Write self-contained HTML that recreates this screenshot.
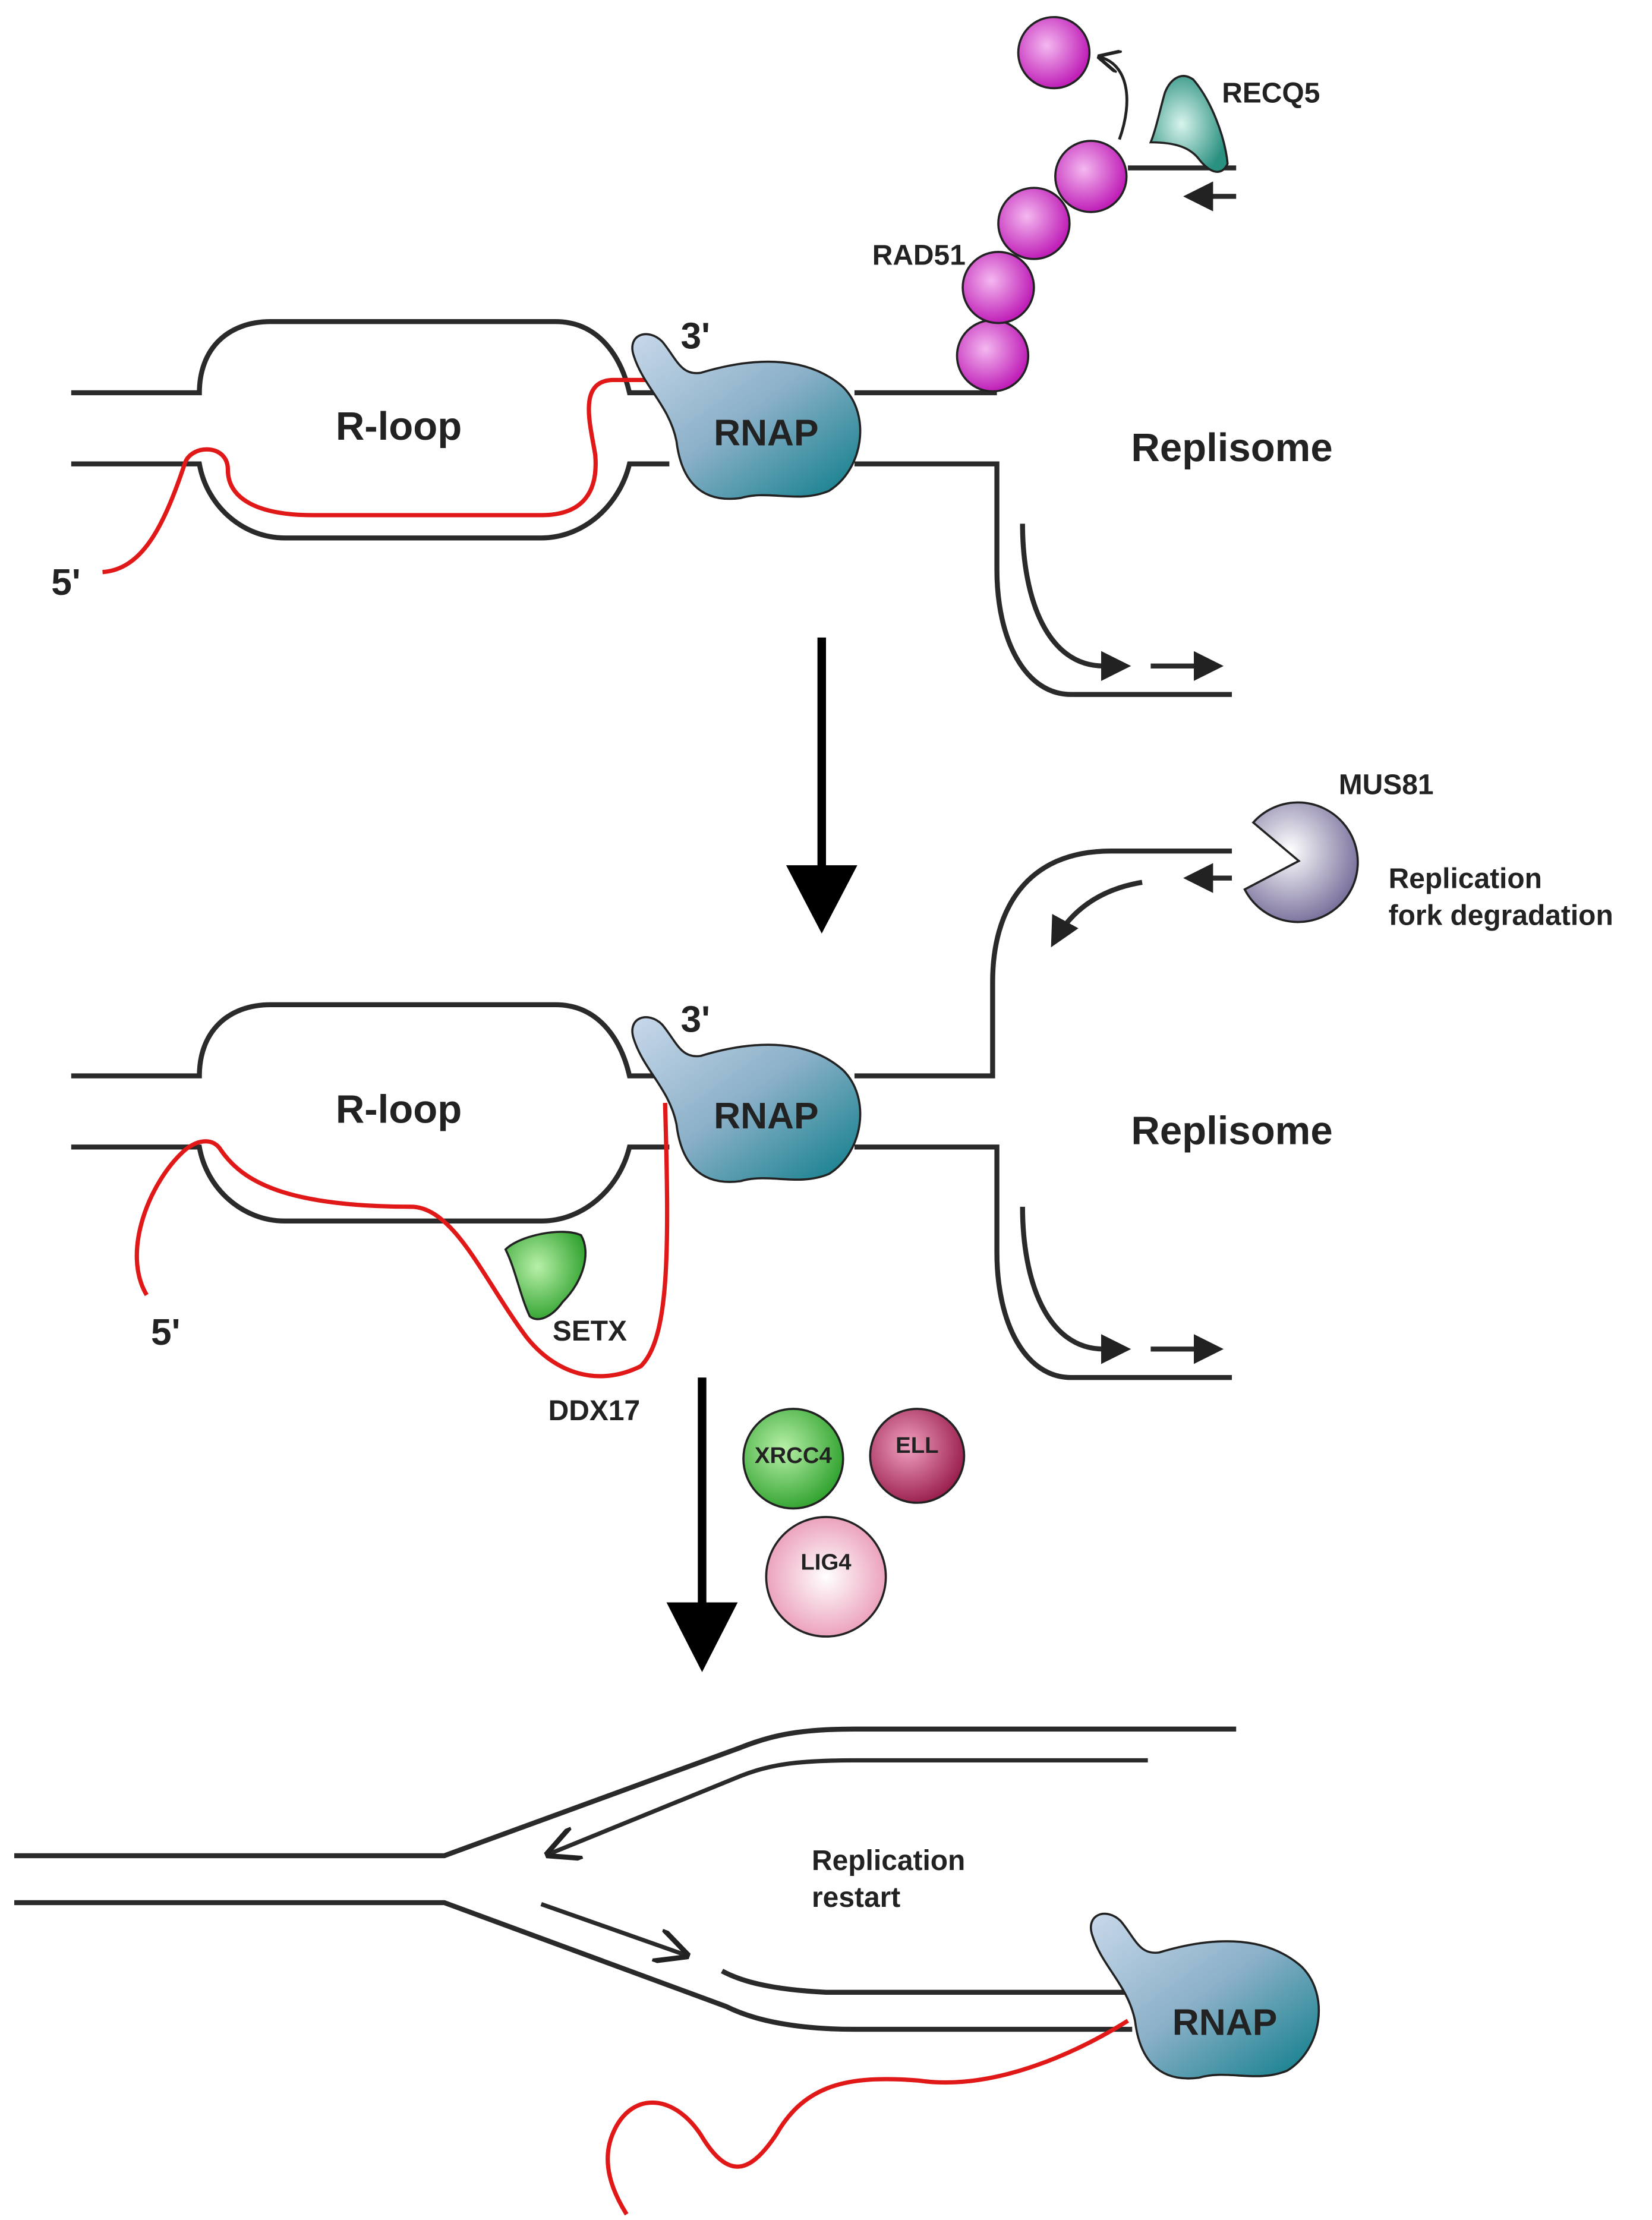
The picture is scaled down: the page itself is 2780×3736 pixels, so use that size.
<!DOCTYPE html>
<html><head><meta charset="utf-8"><style>html,body{margin:0;padding:0;background:#fff}svg{display:block}text{font-family:"Liberation Sans",sans-serif;font-weight:bold;fill:#222}</style></head><body>
<svg width="2780" height="3736" viewBox="0 0 1160 1560" preserveAspectRatio="none" xmlns="http://www.w3.org/2000/svg">
<defs>
<radialGradient id="pk" cx="0.4" cy="0.4" r="0.6"><stop offset="0" stop-color="#f4b8f0"/><stop offset="1" stop-color="#c020b8"/></radialGradient>
<linearGradient id="rn" x1="0" y1="0" x2="1" y2="1"><stop offset="0" stop-color="#c8d8ea"/><stop offset="0.5" stop-color="#8ab0c8"/><stop offset="1" stop-color="#0a7c88"/></linearGradient>
<radialGradient id="tl" cx="0.4" cy="0.5" r="0.6"><stop offset="0" stop-color="#d8f4ec"/><stop offset="1" stop-color="#2a9080"/></radialGradient>
<radialGradient id="pu" cx="0.4" cy="0.4" r="0.7"><stop offset="0" stop-color="#fff"/><stop offset="1" stop-color="#6a6090"/></radialGradient>
<radialGradient id="gr" cx="0.4" cy="0.4" r="0.7"><stop offset="0" stop-color="#b8f0a8"/><stop offset="1" stop-color="#229a22"/></radialGradient>
<radialGradient id="mr" cx="0.4" cy="0.4" r="0.7"><stop offset="0" stop-color="#f0a0c0"/><stop offset="1" stop-color="#901040"/></radialGradient>
<radialGradient id="lp" cx="0.5" cy="0.5" r="0.6"><stop offset="0" stop-color="#fff"/><stop offset="1" stop-color="#e890b0"/></radialGradient>
<marker id="ah" viewBox="0 0 10 10" refX="8" refY="5" markerWidth="6" markerHeight="6" orient="auto"><path d="M0,0L10,5L0,10z" fill="#222"/></marker>
<marker id="oh" viewBox="0 0 10 10" refX="9" refY="5" markerWidth="8" markerHeight="8" orient="auto"><path d="M0,0L10,5L0,10" fill="none" stroke="#222" stroke-width="1.5"/></marker>
<g id="rnap"><path d="M445,250 C440,235 455,230 465,240 C475,252 478,264 492,262 C525,252 565,248 592,272 C612,292 606,330 582,345 C560,354 540,344 520,350 C490,354 478,335 475,310 C470,285 452,272 445,250 Z" fill="url(#rn)" stroke="#222" stroke-width="1.5"/></g>
</defs>
<g fill="none" stroke="#2a2a2a" stroke-width="3.5">
<!-- panel 1 -->
<path d="M50,276 H140 C140,245 160,226 190,226 H390 C420,226 436,250 442,276 H460"/>
<path d="M600,276 H700"/>
<path d="M50,326 H140 C145,355 170,378 200,378 H380 C410,378 435,355 442,326 H470"/>
<path d="M600,326 H700 V400 C700,450 720,488 752,488 H865"/>
<path d="M718,368 C718,420 735,468 775,468 H790" marker-end="url(#ah)"/>
<path d="M808,468 H855" marker-end="url(#ah)"/>
<path d="M792,118 H868"/>
<path d="M868,138 H835" marker-end="url(#ah)"/>
<!-- panel 2 -->
<path d="M50,756 H140 C140,725 160,706 190,706 H390 C420,706 436,730 442,756 H460"/>
<path d="M600,756 H697 V690 C697,640 720,598 780,598 H865"/>
<path d="M50,806 H140 C145,835 170,858 200,858 H380 C410,858 435,835 442,806 H470"/>
<path d="M600,806 H700 V880 C700,930 720,968 752,968 H865"/>
<path d="M718,848 C718,900 735,948 775,948 H790" marker-end="url(#ah)"/>
<path d="M808,948 H855" marker-end="url(#ah)"/>
<path d="M865,617 H835" marker-end="url(#ah)"/>
<path d="M802,620 C772,625 752,640 740,662" marker-end="url(#ah)"/>
<!-- panel 3 -->
<path d="M10,1304 H312 L520,1228 C540,1220 560,1215 600,1215 H868"/>
<path d="M806,1237 H600 C560,1237 540,1240 520,1248 L385,1303" stroke-width="3" marker-end="url(#oh)"/>
<path d="M10,1337 H312 L510,1410 C530,1420 560,1426 600,1426 H795"/>
<path d="M507,1385 C520,1392 540,1398 580,1400 H795"/>
<path d="M380,1338 L482,1374" stroke-width="3" marker-end="url(#oh)"/>
</g>
<!-- red RNA -->
<g fill="none" stroke="#e01818" stroke-width="3">
<path d="M72,402 C100,400 115,370 130,325 C135,312 160,312 160,330 C160,350 180,362 220,362 H380 C410,362 420,345 418,320 C415,300 405,268 430,267 H455"/>
<path d="M103,910 C85,880 105,830 130,808 C140,800 150,800 155,808 C170,830 200,848 290,848 C320,850 340,900 370,940 C390,965 420,975 450,960 C470,940 470,880 467,775"/>
<path d="M792,1420 C760,1440 700,1470 645,1462 C595,1458 565,1465 545,1500 C525,1530 510,1530 492,1500 C472,1470 442,1470 430,1500 C422,1520 430,1540 440,1556"/>
</g>
<use href="#rnap"/>
<use href="#rnap" transform="translate(0,480)"/>
<use href="#rnap" transform="translate(322,1110)"/>
<!-- RAD51 -->
<g stroke="#222" stroke-width="1.5" fill="url(#pk)">
<circle cx="697" cy="250" r="25"/><circle cx="701" cy="202" r="25"/><circle cx="726" cy="157" r="25"/><circle cx="766" cy="124" r="25"/><circle cx="740" cy="37" r="25"/>
</g>
<path d="M786,98 C796,70 792,45 772,40" fill="none" stroke="#222" stroke-width="2" marker-end="url(#oh)"/>
<path d="M818,65 C822,55 830,50 838,56 C850,70 860,95 862,115 C858,124 850,122 842,112 C836,104 826,100 808,100 C812,90 815,75 818,65 Z" fill="url(#tl)" stroke="#222" stroke-width="1.5"/>
<!-- MUS81 -->
<path d="M912,605 L874,625 A42,42 0 1 0 880,578 Z" fill="url(#pu)" stroke="#222" stroke-width="1.5"/>
<!-- SETX -->
<path d="M355,878 C365,868 395,862 408,868 C415,880 410,900 395,915 C388,925 378,930 372,925 C365,910 362,892 355,878 Z" fill="url(#gr)" stroke="#222" stroke-width="1.5"/>
<!-- arrows -->
<path d="M577,448 V612" stroke="#000" stroke-width="6"/>
<path d="M552,608 H602 L577,656 Z" fill="#000"/>
<path d="M493,968 V1130" stroke="#000" stroke-width="6"/>
<path d="M468,1126 H518 L493,1175 Z" fill="#000"/>
<circle cx="557" cy="1025" r="35" fill="url(#gr)" stroke="#222" stroke-width="1.5"/>
<circle cx="644" cy="1023" r="33" fill="url(#mr)" stroke="#222" stroke-width="1.5"/>
<circle cx="580" cy="1108" r="42" fill="url(#lp)" stroke="#222" stroke-width="1.5"/>
<!-- text -->
<text x="478" y="245" font-size="26">3'</text>
<text x="280" y="309" font-size="28" text-anchor="middle" font-weight="normal" style="font-weight:bold">R-loop</text>
<text x="538" y="313" font-size="26" text-anchor="middle">RNAP</text>
<text x="36" y="418" font-size="26">5'</text>
<text x="865" y="324" font-size="28" text-anchor="middle">Replisome</text>
<text x="678" y="186" font-size="20" text-anchor="end">RAD51</text>
<text x="858" y="72" font-size="20">RECQ5</text>
<text x="478" y="725" font-size="26">3'</text>
<text x="280" y="789" font-size="28" text-anchor="middle">R-loop</text>
<text x="538" y="793" font-size="26" text-anchor="middle">RNAP</text>
<text x="106" y="945" font-size="26">5'</text>
<text x="865" y="804" font-size="28" text-anchor="middle">Replisome</text>
<text x="940" y="558" font-size="20">MUS81</text>
<text x="975" y="624" font-size="20">Replication</text>
<text x="975" y="650" font-size="20">fork degradation</text>
<text x="388" y="942" font-size="20">SETX</text>
<text x="385" y="998" font-size="20">DDX17</text>
<text x="557" y="1028" font-size="16" text-anchor="middle">XRCC4</text>
<text x="644" y="1021" font-size="16" text-anchor="middle">ELL</text>
<text x="580" y="1103" font-size="16" text-anchor="middle">LIG4</text>
<text x="570" y="1314" font-size="20">Replication</text>
<text x="570" y="1340" font-size="20">restart</text>
<text x="860" y="1430" font-size="26" text-anchor="middle">RNAP</text>
</svg>
</body></html>
